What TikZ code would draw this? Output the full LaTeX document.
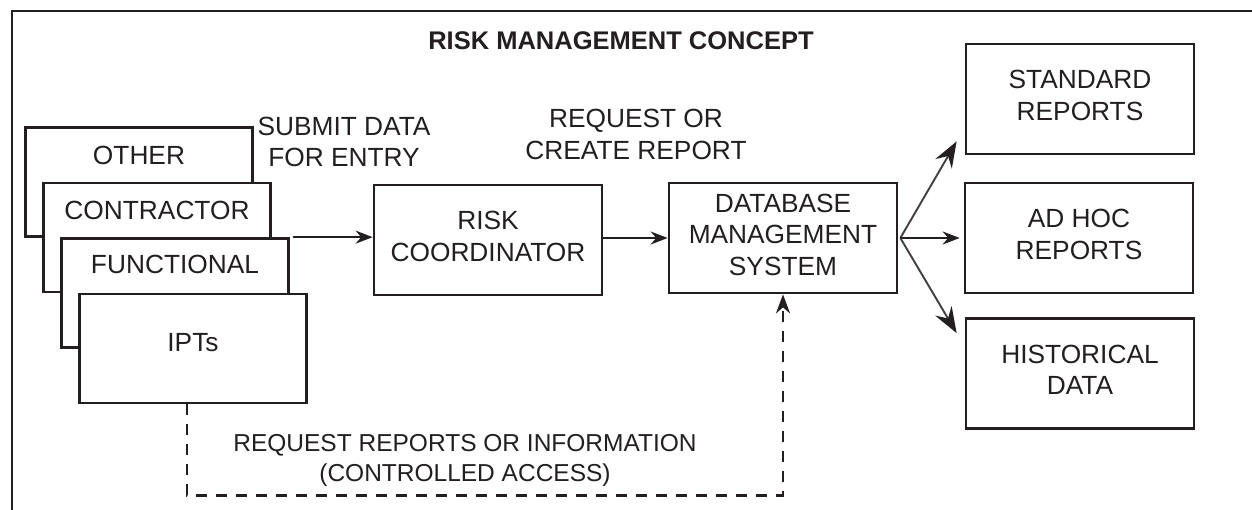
\documentclass[tikz,border=0pt]{standalone}
\usepackage{fontspec}
\setmainfont{Liberation Sans}
\usetikzlibrary{arrows.meta,calc}
\definecolor{ink}{HTML}{231F20}
\definecolor{thinink}{HTML}{404040}
\begin{document}
\begin{tikzpicture}[x=1pt,y=-1pt,
  frame/.style={draw=ink,line width=2.8pt},
  box/.style={draw=ink,line width=2.7pt,fill=white,minimum width=228pt,minimum height=110pt,inner sep=0pt,text=ink,font=\fontsize{26.3}{31.5}\selectfont,align=center,text depth=7pt},
  stackbox/.style={draw=ink,line width=2.7pt,fill=white,minimum width=227pt,minimum height=109pt,inner sep=0pt},
  lbl/.style={text=ink,inner sep=0pt,font=\fontsize{26.3}{31.5}\selectfont,align=center},
  lblsmall/.style={text=ink,inner sep=0pt,font=\fontsize{24.5}{30}\selectfont,align=center},
  titlestyle/.style={text=ink,inner sep=0pt,font=\fontsize{25.5}{30}\selectfont\bfseries},
  arr/.style={draw=ink,line width=2.3pt,-{Stealth[length=17pt,width=13pt,inset=5.5pt]}},
  diag/.style={draw=thinink,line width=1.9pt,-{Stealth[length=26pt,width=19pt,inset=9pt,color=ink]}},
  dsh/.style={draw=ink,line width=2.4pt,dash pattern=on 11pt off 9pt,-{Stealth[length=19pt,width=14pt,inset=6pt]}}
]
\useasboundingbox (0,0) rectangle (1252,510);
\draw[frame] (12,510) -- (12,11) -- (1252,11);
\node[titlestyle] (ttl) at (621,41) {RISK MANAGEMENT CONCEPT};

% stacked sources
\node[stackbox] (other) at (139,182) {};
\node[lbl] (othert) at (139,155) {OTHER};
\node[stackbox] (contr) at (157,237.5) {};
\node[lbl] (contrt) at (157,210.5) {CONTRACTOR};
\node[stackbox] (func) at (175,293) {};
\node[lbl] (funct) at (175,264) {FUNCTIONAL};
\node[stackbox] (ipts) at (193,348.5) {};
\node[lbl] (iptst) at (193,343) {IPTs};

\node[lbl] (submit) at (344,142) {SUBMIT DATA\\FOR ENTRY};
\node[lbl] (req) at (636,134.5) {REQUEST OR\\CREATE REPORT};

\node[box] (rc) at (488,240) {RISK\\COORDINATOR};
\node[box] (dbms) at (783,238) {DATABASE\\MANAGEMENT\\SYSTEM};
\node[box] (std) at (1080,99) {STANDARD\\REPORTS};
\node[box] (adhoc) at (1079,238) {AD HOC\\REPORTS};
\node[box] (hist) at (1080,373.5) {HISTORICAL\\DATA};

\node[lblsmall] (acc) at (465,460) {REQUEST REPORTS OR INFORMATION\\(CONTROLLED ACCESS)};

% connectors
\draw[arr] ([xshift=3pt]func.north east) -- (rc.west |- func.north east);
\draw[arr] (rc.east |- dbms.west) -- (dbms.west);
\coordinate (fan) at ([xshift=2pt]dbms.east);
\draw[diag] (fan) -- ($(std.south west)+(-8,-14)$);
\draw[arr,shorten >=4pt] (fan) -- (adhoc.west);
\draw[diag] (fan) -- ($(hist.north west)+(-8,16)$);
\draw[dsh] ([xshift=-6pt]ipts.south) |- ([yshift=-201pt]dbms.south) -- (dbms.south);
\end{tikzpicture}
\end{document}
